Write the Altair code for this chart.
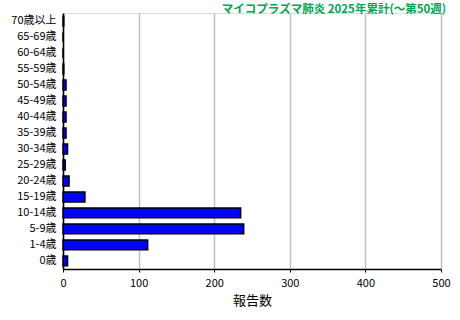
import altair as alt
import pandas as pd

ages = ["0歳", "1-4歳", "5-9歳", "10-14歳", "15-19歳", "20-24歳", "25-29歳", "30-34歳",
        "35-39歳", "40-44歳", "45-49歳", "50-54歳", "55-59歳", "60-64歳", "65-69歳", "70歳以上"]
counts = [6, 112, 239, 235, 29, 8, 3, 6, 4, 4, 4, 4, 1, 0, 0, 1]

df = pd.DataFrame({"age": ages, "count": counts})
order = list(reversed(ages))

chart = alt.Chart(df).mark_bar(color="#0000FF", stroke="#000000", strokeWidth=1.5).encode(
    x=alt.X("count:Q", scale=alt.Scale(domain=[0, 500], nice=False),
            axis=alt.Axis(title="報告数", values=[0, 100, 200, 300, 400, 500],
                          grid=True, gridColor="#C0C0C0", gridWidth=1.5,
                          domainColor="#000000", domainWidth=1.5,
                          tickColor="#000000", tickSize=3, labelFlush=False,
                          labelFont="Noto Sans CJK JP", labelFontSize=11, labelColor="#000000",
                          titleFont="Noto Sans CJK JP", titleFontSize=13, titleFontWeight="normal",
                          titleColor="#000000", titlePadding=6, labelPadding=5)),
    y=alt.Y("age:N", sort=order, scale=alt.Scale(paddingInner=0.38, paddingOuter=0.2),
            axis=alt.Axis(title=None, ticks=False, domainColor="#000000", domainWidth=1.5,
                          labelFont="Noto Sans CJK JP", labelFontSize=11, labelColor="#000000",
                          labelPadding=7)),
).properties(
    width=378, height=256,
    title=alt.TitleParams("マイコプラズマ肺炎 2025年累計(～第50週)", anchor="end",
                          font="Noto Sans CJK JP", fontSize=11.5, fontWeight="bold",
                          color="#00A651", offset=0, dx=-4, dy=2),
    autosize=alt.AutoSizeParams(type="none"),
    padding={"left": 63, "top": 13, "right": 19, "bottom": 51},
).configure_view(stroke="#000000", strokeWidth=1.5).configure(background="white")

chart.save("out.html", embed_options={"renderer": "svg", "actions": False})
